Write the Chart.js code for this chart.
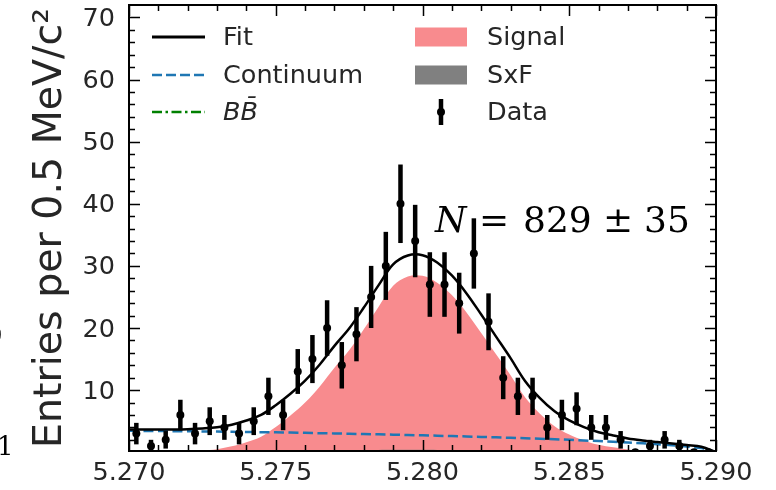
<!DOCTYPE html>
<html>
<head>
<meta charset="utf-8">
<script src="https://cdn.jsdelivr.net/npm/chart.js@4.4.1/dist/chart.umd.min.js"></script>
<style>
  html, body { margin: 0; padding: 0; background: #fff; }
  #wrap { width: 776px; height: 490px; }
</style>
</head>
<body>
<div id="wrap"><canvas id="massChart" width="776" height="490"></canvas></div>
<script>
// grid of the fitted curves (GeV/c^2), one point per 0.5 MeV
const massGrid = [
  5.2700, 5.2705, 5.2710, 5.2715, 5.2720, 5.2725, 5.2730, 5.2735, 5.2740, 5.2745,
  5.2750, 5.2755, 5.2760, 5.2765, 5.2770, 5.2775, 5.2780, 5.2785, 5.2790, 5.2795,
  5.2800, 5.2805, 5.2810, 5.2815, 5.2820, 5.2825, 5.2830, 5.2835, 5.2840, 5.2845,
  5.2850, 5.2855, 5.2860, 5.2865, 5.2870, 5.2875, 5.2880, 5.2885, 5.2890, 5.2895,
  5.2900
];
const fitCurve = [
  3.66, 3.65, 3.65, 3.67, 3.72, 3.83, 4.02, 4.44, 5.11, 6.01,
  7.57, 9.42, 11.52, 14.12, 17.13, 19.91, 23.29, 26.86, 30.23, 31.67,
  31.72, 30.54, 28.46, 25.57, 22.17, 18.66, 15.15, 11.43, 8.71, 6.59,
  5.12, 4.05, 3.23, 2.71, 2.22, 1.89, 1.63, 1.40, 1.15, 0.88,
  0.01
];
const continuumCurve = [
  3.45, 3.43, 3.41, 3.39, 3.37, 3.35, 3.32, 3.29, 3.26, 3.23,
  3.20, 3.16, 3.12, 3.07, 3.03, 2.98, 2.93, 2.88, 2.83, 2.77,
  2.72, 2.66, 2.60, 2.54, 2.47, 2.40, 2.33, 2.25, 2.17, 2.09,
  2.00, 1.90, 1.80, 1.69, 1.57, 1.44, 1.30, 1.13, 0.92, 0.66,
  0
];
const bbCurve = [
  0.2, 0.2, 0.2, 0.2, 0.2, 0.2, 0.2, 0.2, 0.2, 0.2,
  0.2, 0.2, 0.2, 0.2, 0.2, 0.2, 0.2, 0.2, 0.2, 0.2,
  0.2, 0.2, 0.2, 0.2, 0.2, 0.2, 0.2, 0.2, 0.2, 0.2,
  0.2, 0.2, 0.2, 0.2, 0.2, 0.2, 0.2, 0.2, 0.2, 0.2,
  0
];
const signalCurve = [
  0.01, 0.02, 0.04, 0.08, 0.15, 0.28, 0.5, 0.95, 1.6, 2.5,
  4.05, 5.9, 8.0, 10.6, 13.6, 16.4, 19.8, 23.4, 26.8, 28.3,
  28.4, 27.3, 25.3, 22.5, 19.2, 15.8, 12.4, 8.8, 6.2, 4.2,
  2.85, 1.9, 1.2, 0.8, 0.45, 0.25, 0.13, 0.07, 0.03, 0.02,
  0.01
];
const sxfCurve = [
  0, 0, 0, 0, 0, 0, 0, 0, 0.05, 0.08,
  0.12, 0.16, 0.2, 0.25, 0.3, 0.33, 0.36, 0.38, 0.4, 0.4,
  0.4, 0.38, 0.36, 0.33, 0.3, 0.26, 0.22, 0.18, 0.14, 0.1,
  0.07, 0.05, 0.03, 0.02, 0, 0, 0, 0, 0, 0,
  0
];

// binned data
const binCenters = [
  5.27025, 5.27075, 5.27125, 5.27175, 5.27225, 5.27275, 5.27325, 5.27375, 5.27425, 5.27475,
  5.27525, 5.27575, 5.27625, 5.27675, 5.27725, 5.27775, 5.27825, 5.27875, 5.27925, 5.27975,
  5.28025, 5.28075, 5.28125, 5.28175, 5.28225, 5.28275, 5.28325, 5.28375, 5.28425, 5.28475,
  5.28525, 5.28575, 5.28625, 5.28675, 5.28725, 5.28775, 5.28825, 5.28875, 5.28925, 5.28975
];
const entries = [
  3, 1, 2, 6, 3, 5, 4, 3, 5, 9,
  6, 13, 15, 20, 14, 19, 25, 30, 40, 34,
  27, 27, 24, 32, 21, 12, 9, 9, 4, 6,
  7, 4, 4, 2, 0, 1, 2, 1, 0, 0
];
const entryErrors = [
  1.73, 1.0, 1.41, 2.45, 1.73, 2.24, 2.0, 1.73, 2.24, 3.0,
  2.45, 3.61, 3.87, 4.47, 3.74, 4.36, 5.0, 5.48, 6.32, 5.83,
  5.20, 5.20, 4.90, 5.66, 4.58, 3.46, 3.0, 3.0, 2.0, 2.45,
  2.65, 2.0, 2.0, 1.41, 0, 1.0, 1.41, 1.0, 0, 0
];

const xTicks = [5.270, 5.275, 5.280, 5.285, 5.290];
const yTicks = [10, 20, 30, 40, 50, 60, 70];

const colors = { fit: '#000000', continuum: '#1f77b4', bb: '#008000', signal: '#f88b8e', sxf: '#808080', text: '#262626' };

const toPoints = (xs, ys) => xs.map((x, i) => ({ x: x, y: ys[i] }));

// 誤差棒・枠・目盛り・凡例などの描画
const decorPlugin = {
    id: 'decor',
    afterDatasetsDraw(chart) {
        const { ctx, chartArea, scales: { x, y } } = chart;
        ctx.save();
        ctx.beginPath();
        ctx.rect(chartArea.left, chartArea.top, chartArea.right - chartArea.left, chartArea.bottom - chartArea.top);
        ctx.clip();
        ctx.strokeStyle = '#000';
        ctx.lineWidth = 4.5;
        binCenters.forEach((m, i) => {
            if (entryErrors[i] <= 0) return;
            const px = x.getPixelForValue(m);
            ctx.beginPath();
            ctx.moveTo(px, y.getPixelForValue(entries[i] - entryErrors[i]));
            ctx.lineTo(px, y.getPixelForValue(entries[i] + entryErrors[i]));
            ctx.stroke();
        });
        ctx.restore();
    },
    afterDraw(chart) {
        const { ctx, chartArea: a, scales: { x, y } } = chart;
        ctx.save();

        // frame
        ctx.strokeStyle = '#000';
        ctx.lineWidth = 2;
        ctx.strokeRect(a.left, a.top, a.right - a.left, a.bottom - a.top);

        // inward ticks on all four sides
        ctx.lineWidth = 1.5;
        const tickX = (v, len) => {
            const px = Math.round(x.getPixelForValue(v)) + 0.5;
            ctx.beginPath();
            ctx.moveTo(px, a.bottom); ctx.lineTo(px, a.bottom - len);
            ctx.moveTo(px, a.top); ctx.lineTo(px, a.top + len);
            ctx.stroke();
        };
        const tickY = (v, len) => {
            const py = Math.round(y.getPixelForValue(v)) + 0.5;
            ctx.beginPath();
            ctx.moveTo(a.left, py); ctx.lineTo(a.left + len, py);
            ctx.moveTo(a.right, py); ctx.lineTo(a.right - len, py);
            ctx.stroke();
        };
        for (let k = 1; k < 20; k++) {
            if (k % 5 !== 0) tickX(5.270 + k * 0.001, 6);
        }
        xTicks.forEach(v => tickX(v, 11));
        for (let v = 2; v < 72; v += 2) {
            if (v % 10 !== 0) tickY(v, 6);
        }
        yTicks.forEach(v => tickY(v, 11));

        // tick labels
        ctx.fillStyle = colors.text;
        ctx.font = '25.5px "DejaVu Sans"';
        ctx.textBaseline = 'alphabetic';
        ctx.textAlign = 'center';
        xTicks.forEach(v => ctx.fillText(v.toFixed(3), x.getPixelForValue(v), 480));
        ctx.textAlign = 'right';
        yTicks.forEach(v => ctx.fillText(String(v), 115, y.getPixelForValue(v) + 8.5));

        // y axis title
        ctx.font = '39.5px "DejaVu Sans"';
        ctx.textAlign = 'center';
        ctx.translate(61, (a.top + a.bottom) / 2);
        ctx.rotate(-Math.PI / 2);
        ctx.fillText('Entries per 0.5 MeV/c\u00b2', 0, 0);
        ctx.setTransform(1, 0, 0, 1, 0, 0);

        // legend, left column (lines)
        const rows = [37, 75, 112];
        const legendLine = (row, color, dash, width) => {
            ctx.strokeStyle = color;
            ctx.lineWidth = width;
            ctx.setLineDash(dash);
            ctx.beginPath();
            ctx.moveTo(152, rows[row]); ctx.lineTo(205, rows[row]);
            ctx.stroke();
        };
        legendLine(0, colors.fit, [], 3);
        legendLine(1, colors.continuum, [10, 4], 2.5);
        legendLine(2, colors.bb, [10, 3.5, 2.5, 3.5], 2.5);
        ctx.setLineDash([]);

        // right column (patches and data)
        ctx.fillStyle = colors.signal;
        ctx.fillRect(415, rows[0] - 9.5, 52, 19);
        ctx.fillStyle = colors.sxf;
        ctx.fillRect(415, rows[1] - 9.5, 52, 19);
        ctx.strokeStyle = '#000';
        ctx.lineWidth = 4.5;
        ctx.beginPath();
        ctx.moveTo(441, rows[2] - 13); ctx.lineTo(441, rows[2] + 13);
        ctx.stroke();
        ctx.fillStyle = '#000';
        ctx.beginPath();
        ctx.arc(441, rows[2], 4, 0, Math.PI * 2);
        ctx.fill();

        ctx.fillStyle = colors.text;
        ctx.textAlign = 'left';
        ctx.textBaseline = 'middle';
        ctx.font = '25.5px "DejaVu Sans"';
        ctx.fillText('Fit', 223, rows[0] + 1);
        ctx.fillText('Continuum', 223, rows[1] + 1);
        ctx.fillText('Signal', 487, rows[0] + 1);
        ctx.fillText('SxF', 487, rows[1] + 1);
        ctx.fillText('Data', 487, rows[2] + 1);
        ctx.font = 'italic 25.5px "DejaVu Sans"';
        ctx.fillText('BB\u0304', 223, rows[2] + 1);

        // yield annotation
        ctx.fillStyle = '#000';
        ctx.textBaseline = 'alphabetic';
        ctx.font = 'italic 36px "DejaVu Serif"';
        ctx.fillText('N', 435, 232);
        ctx.font = '36px "DejaVu Serif"';
        ctx.fillText('=', 479, 232);
        ctx.fillText('829', 523, 232);
        ctx.fillText('\u00b1', 603, 232);
        ctx.fillText('35', 644, 232);

        // cropped text at the left edge
        ctx.font = '26px "DejaVu Serif"';
        ctx.fillText('1', -3, 455);
        ctx.fillText('0', -14, 344);

        ctx.restore();
    }
};

const lineDefaults = { pointRadius: 0, borderWidth: 2.5, tension: 0.35, fill: false };

new Chart(document.getElementById('massChart'), {
    type: 'line',
    data: {
        datasets: [
            { ...lineDefaults, label: 'Signal', data: toPoints(massGrid, signalCurve), borderWidth: 0, backgroundColor: colors.signal, fill: 'origin', order: 6 },
            { ...lineDefaults, label: 'SxF', data: toPoints(massGrid, sxfCurve), borderWidth: 0, backgroundColor: colors.sxf, fill: 'origin', order: 5 },
            { ...lineDefaults, label: 'BB', data: toPoints(massGrid, bbCurve), borderColor: colors.bb, borderWidth: 2, borderDash: [10, 3.5, 2.5, 3.5], order: 4 },
            { ...lineDefaults, label: 'Continuum', data: toPoints(massGrid, continuumCurve), borderColor: colors.continuum, borderDash: [10, 4.5], order: 3 },
            { ...lineDefaults, label: 'Fit', data: toPoints(massGrid, fitCurve), borderColor: colors.fit, order: 2 },
            { label: 'Data', data: toPoints(binCenters, entries), showLine: false, pointRadius: 4, pointBackgroundColor: '#000', pointBorderWidth: 0, order: 1 }
        ]
    },
    options: {
        responsive: false,
        devicePixelRatio: 1,
        animation: false,
        layout: { padding: { left: 0, top: 5, right: 60, bottom: 0 } },
        plugins: { legend: { display: false }, tooltip: { enabled: false } },
        scales: {
            x: {
                type: 'linear', min: 5.270, max: 5.290,
                grid: { display: false, drawTicks: false },
                border: { display: false },
                ticks: { display: false },
                afterFit: s => { s.height = 39; }
            },
            y: {
                type: 'linear', min: 0.2, max: 72,
                grid: { display: false, drawTicks: false },
                border: { display: false },
                ticks: { display: false },
                afterFit: s => { s.width = 129; }
            }
        }
    },
    plugins: [decorPlugin]
});
</script>
</body>
</html>
